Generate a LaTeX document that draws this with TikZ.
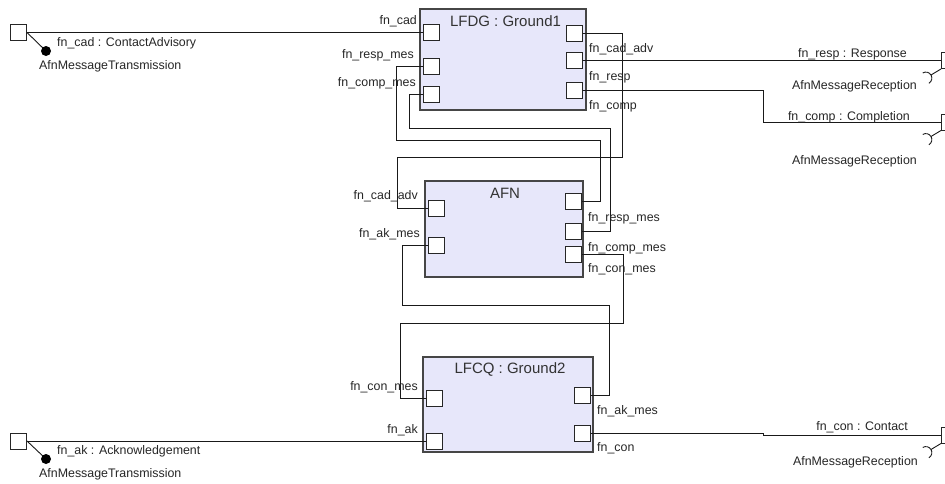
\documentclass[tikz,border=0pt]{standalone}
\usepackage{fontspec}
\setmainfont{Liberation Sans}
\definecolor{partfill}{RGB}{231,231,250}
\definecolor{partline}{RGB}{70,70,70}

\begin{document}
\begin{tikzpicture}[x=1pt,y=-1pt,line join=miter,
    part/.style={draw=partline,line width=1.2pt,fill=partfill,inner sep=0pt},
    port/.style={draw=black!85,line width=1pt,fill=white,minimum size=16pt,inner sep=0pt},
    wire/.style={line width=0.9pt,draw=black!90},
    lbl/.style={inner sep=0pt,text=black!85,font=\fontsize{12.4pt}{14pt}\selectfont},
    ttl/.style={inner sep=0pt,text=black!80,font=\fontsize{15pt}{18pt}\selectfont}]
  \path[use as bounding box] (0,0) rectangle (945,483);   % canvas 945x483 px, y downwards
  \clip (0,0) rectangle (945,483);
  % ---- parts ----
  \node[part,minimum width=166pt,minimum height=101pt] (lfdg) at (503,59.5) {};   % px x[420,586] y[9,110]
  \node[part,minimum width=158pt,minimum height=96pt]  (afn)  at (504,229)  {};   % px x[425,583] y[181,277]
  \node[part,minimum width=170pt,minimum height=95pt]  (lfcq) at (508,404.5) {};  % px x[423,593] y[357,452]
  \node[ttl,anchor=base] (lfdgTitle) at (505.5,26.5) {LFDG : Ground1};
  \node[ttl,anchor=base] (afnTitle)  at (505,198)    {AFN};
  \node[ttl,anchor=base] (lfcqTitle) at (510,373)    {LFCQ : Ground2};
  % ---- ports of the parts ----
  \node[port] (lfdgCad)     at (431,32.5)  {};
  \node[port] (lfdgRespMes) at (431,66.5)  {};
  \node[port] (lfdgCompMes) at (431,94.5)  {};
  \node[port] (lfdgCadAdv)  at (574.5,33.5) {};
  \node[port] (lfdgResp)    at (574.5,60.5) {};
  \node[port] (lfdgComp)    at (574.5,90.5) {};
  \node[port] (afnCadAdv)   at (436.5,208.5) {};
  \node[port] (afnAkMes)    at (436.5,245)   {};
  \node[port] (afnRespMes)  at (573.5,201.5) {};
  \node[port] (afnCompMes)  at (573.5,231)   {};
  \node[port] (afnConMes)   at (573.5,254)   {};
  \node[port] (lfcqConMes)  at (434,398.5) {};
  \node[port] (lfcqAk)      at (434,441)   {};
  \node[port] (lfcqAkMes)   at (582,395)   {};
  \node[port] (lfcqCon)     at (582,433.5) {};
  % ---- boundary ports (right ones cut by the frame) ----
  \node[port] (extCad)  at (18.5,32.5)  {};
  \node[port] (extAk)   at (18.5,441)   {};
  \node[port] (extResp) at (949.5,60.5) {};
  \node[port] (extComp) at (949.5,122)  {};
  \node[port] (extCon)  at (949.5,435)  {};
  % ---- connectors ----
  \draw[wire] (extCad.east) -- (lfdgCad.west);
  \draw[wire] (lfdgRespMes.west) -| (396,140) -- (600,140) |- (afnRespMes.east);
  \draw[wire] (lfdgCompMes.west) -| (409,128) -- (610,128) |- (afnCompMes.east);
  \draw[wire] (lfdgCadAdv.east) -| (622,157) -- (397,157) |- (afnCadAdv.west);
  \draw[wire] (lfdgResp.east) -- (extResp.west);
  \draw[wire] (lfdgComp.east) -| (763,122) -- (extComp.west);
  \draw[wire] (afnAkMes.west) -| (402,305) -- (609,305) |- (lfcqAkMes.east);
  \draw[wire] (afnConMes.east) -| (623,323) -- (400,323) |- (lfcqConMes.west);
  \draw[wire] (extAk.east) -- (lfcqAk.west);
  \draw[wire] (lfcqCon.east) -| (763,435) -- (extCon.west);
  % ---- provided interfaces (lollipops) ----
  \coordinate (cadBall) at (46,51);
  \coordinate (akBall)  at (46,459);
  \draw[wire] (extCad.east) -- (cadBall);
  \draw[wire] (extAk.east) -- (akBall);
  \fill[black] (cadBall) circle[radius=5pt];
  \fill[black] (akBall)  circle[radius=5pt];
  % ---- required interfaces (sockets) ----
  \draw[wire] (extResp.south west) -- ++(-10pt,-6pt) ++(211:6pt) ++(-59:6pt) arc[start angle=-59,end angle=121,radius=6pt];
  \draw[wire] (extComp.south west) -- ++(-10pt,-6pt) ++(211:6pt) ++(-59:6pt) arc[start angle=-59,end angle=121,radius=6pt];
  \draw[wire] (extCon.south west)  -- ++(-10pt,-6pt) ++(211:6pt) ++(-59:6pt) arc[start angle=-59,end angle=121,radius=6pt];
  % ---- boundary labels ----
  \node[lbl,anchor=base west] (cadLbl)  at (57,46)   {fn\_cad : ContactAdvisory};
  \node[lbl,anchor=base west] (cadIf)   at (39,69)   {AfnMessageTransmission};
  \node[lbl,anchor=base west] (akLbl)   at (57,454)  {fn\_ak : Acknowledgement};
  \node[lbl,anchor=base west] (akIf)    at (39,477)  {AfnMessageTransmission};
  \node[lbl,anchor=base east] (respLbl) at (907,57)  {fn\_resp : Response};
  \node[lbl,anchor=base east] (respIf)  at (917,89)  {AfnMessageReception};
  \node[lbl,anchor=base east] (compLbl) at (910,120) {fn\_comp : Completion};
  \node[lbl,anchor=base east] (compIf)  at (917,164) {AfnMessageReception};
  \node[lbl,anchor=base east] (conLbl)  at (908,430) {fn\_con : Contact};
  \node[lbl,anchor=base east] (conIf)   at (918,465) {AfnMessageReception};
  % ---- port labels ----
  \node[lbl,anchor=base east] (lfdgCadLbl)     at (417,24)  {fn\_cad};
  \node[lbl,anchor=base east] (lfdgRespMesLbl) at (414,58)  {fn\_resp\_mes};
  \node[lbl,anchor=base east] (lfdgCompMesLbl) at (416,86)  {fn\_comp\_mes};
  \node[lbl,anchor=base west] (lfdgCadAdvLbl)  at (589,52)  {fn\_cad\_adv};
  \node[lbl,anchor=base west] (lfdgRespLbl)    at (589,80)  {fn\_resp};
  \node[lbl,anchor=base west] (lfdgCompLbl)    at (589,109) {fn\_comp};
  \node[lbl,anchor=base east] (afnCadAdvLbl)   at (418,199) {fn\_cad\_adv};
  \node[lbl,anchor=base east] (afnAkMesLbl)    at (420,237) {fn\_ak\_mes};
  \node[lbl,anchor=base west] (afnRespMesLbl)  at (588,221) {fn\_resp\_mes};
  \node[lbl,anchor=base west] (afnCompMesLbl)  at (588,251) {fn\_comp\_mes};
  \node[lbl,anchor=base west] (afnConMesLbl)   at (588,272) {fn\_con\_mes};
  \node[lbl,anchor=base east] (lfcqConMesLbl)  at (418,390) {fn\_con\_mes};
  \node[lbl,anchor=base east] (lfcqAkLbl)      at (418,433) {fn\_ak};
  \node[lbl,anchor=base west] (lfcqAkMesLbl)   at (597,414) {fn\_ak\_mes};
  \node[lbl,anchor=base west] (lfcqConLbl)     at (597,451) {fn\_con};
\end{tikzpicture}
\end{document}
